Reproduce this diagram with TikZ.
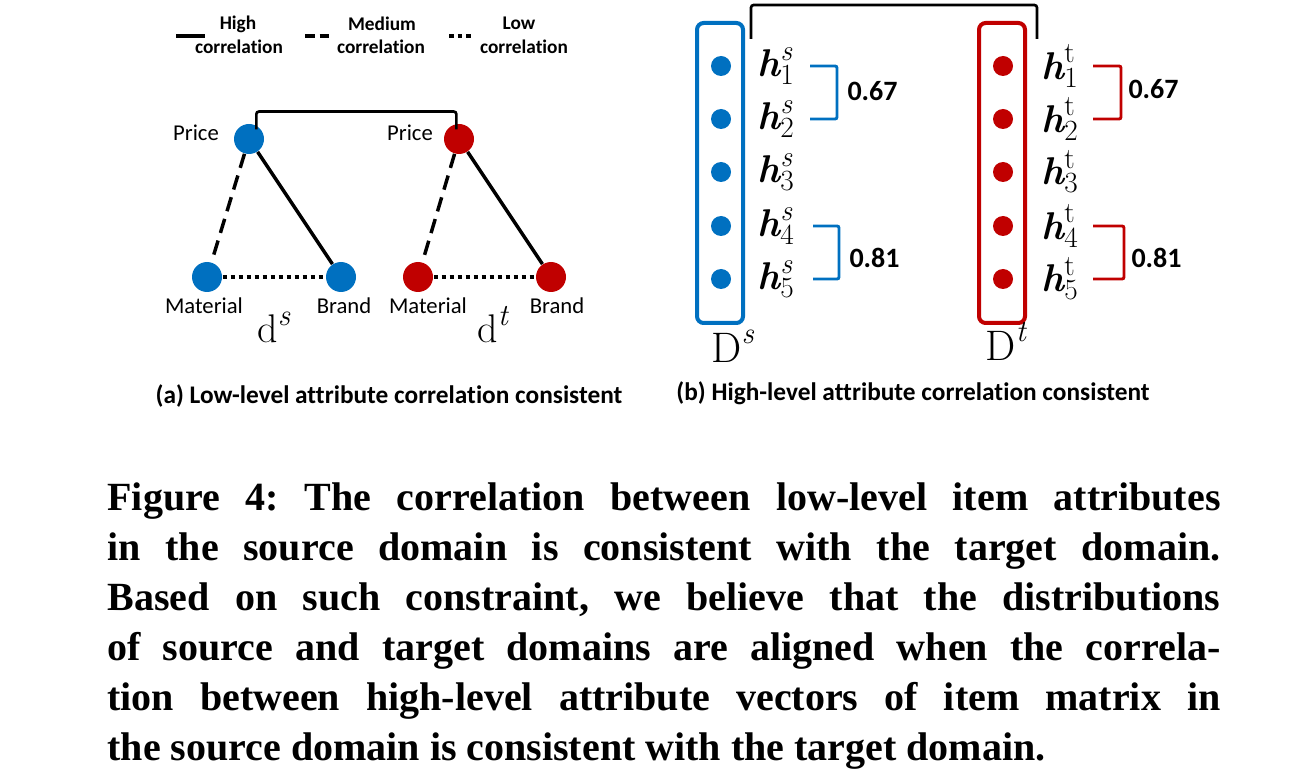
\documentclass[tikz,border=0pt]{standalone}
\usepackage{fontspec}
\usetikzlibrary{calc}
\newfontfamily\calib[Ligatures=NoCommon]{Carlito}
\newfontfamily\capserif{Liberation Serif}
\definecolor{sblue}{RGB}{0,112,192}
\definecolor{tred}{RGB}{192,0,0}
% vector label h with script sizes set by hand
\newcommand\hv[2]{$\mbox{\bfseries\itshape h}^{\mbox{\fontsize{22}{22}\selectfont #1}}_{\mbox{\fontsize{22}{22}\selectfont #2}}$}
\newcommand\dom[2]{$\mbox{#1}^{\mbox{\fontsize{23}{23}\selectfont\itshape #2}}$}

\tikzset{every picture/.style={line width=0.75pt}}
\tikzset{
  dotS/.style={circle,fill=sblue,inner sep=0pt,minimum size=22.5pt},
  dotT/.style={circle,fill=tred,inner sep=0pt,minimum size=22.5pt},
  vecS/.style={circle,fill=sblue,inner sep=0pt,minimum size=15pt},
  vecT/.style={circle,fill=tred,inner sep=0pt,minimum size=15pt},
  hiline/.style={line width=2.6pt},
  medline/.style={line width=2.6pt,dash pattern=on 11pt off 6pt},
  lowline/.style={line width=2.6pt,dash pattern=on 3pt off 3pt},
  bracket/.style={line width=2pt,rounded corners=2pt},
  brkS/.style={sblue,line width=2.2pt,rounded corners=1.5pt},
  brkT/.style={tred,line width=2.2pt,rounded corners=1.5pt},
  boxS/.style={draw=sblue,line width=3pt,rounded corners=5pt,minimum width=34.5pt,minimum height=225pt,inner sep=0pt},
  boxT/.style={draw=tred,line width=3pt,rounded corners=5pt,minimum width=34.5pt,minimum height=225pt,inner sep=0pt},
  legtxt/.style={inner sep=0pt,font=\calib\bfseries\fontsize{14.5}{17}\selectfont},
  attr/.style={inner sep=0pt,font=\calib\fontsize{17}{20}\selectfont},
  sublab/.style={inner sep=0pt,font=\calib\bfseries\fontsize{19}{22}\selectfont},
  vallab/.style={inner sep=0pt,anchor=west,font=\calib\bfseries\fontsize{21}{24}\selectfont},
  hlab/.style={inner sep=0pt,anchor=west,font=\fontsize{29}{30}\selectfont},
  domlab/.style={inner sep=0pt,anchor=base,font=\fontsize{30}{34}\selectfont}
}

\begin{document}
\begin{tikzpicture}[x=0.75pt,y=0.75pt,yscale=-1,xscale=1]
\useasboundingbox (0,0) rectangle (1303,777);

% Legend
\coordinate (hiA) at (176,36);
\coordinate (hiB) at (205,36);
\coordinate (medA) at (305,36);
\coordinate (medB) at (329,36);
\coordinate (lowA) at (449,36);
\coordinate (lowB) at (474,36);
\draw [hiline,line width=3pt] (hiA) -- (hiB);
\draw [medline,line width=3pt,dash pattern=on 7.5pt off 3.5pt] (medA) -- (medB);
\draw [lowline,line width=3pt,dash pattern=on 3.5pt off 3pt] (lowA) -- (lowB);
% Text Node
\draw (238,24) node [legtxt] (tHigh) {High};
\draw (239,47) node [legtxt] (tHighC) {correlation};
% Text Node
\draw (382,24) node [legtxt] (tMed) {Medium};
\draw (381,47) node [legtxt] (tMedC) {correlation};
% Text Node
\draw (519,23) node [legtxt] (tLow) {Low};
\draw (524,47) node [legtxt] (tLowC) {correlation};

% (a) attribute graphs
\draw (249,139) node [dotS] (priceS) {};
\draw (207,277) node [dotS] (matS) {};
\draw (341,277) node [dotS] (brandS) {};
\draw (459,139) node [dotT] (priceT) {};
\draw (418,277) node [dotT] (matT) {};
\draw (551,277) node [dotT] (brandT) {};

\draw [medline] (priceS) -- (matS);
\draw [hiline] (priceS) -- (brandS);
\draw [lowline] (matS) -- (brandS);
\draw [medline] (priceT) -- (matT);
\draw [hiline] (priceT) -- (brandT);
\draw [lowline] (matT) -- (brandT);

\draw [bracket] ([xshift=5.5pt,yshift=4.5pt]priceS.north) -- ++(0,-18) -| ([xshift=-2pt,yshift=4.5pt]priceT.north);

% Text Node
\draw (196,133) node [attr] (lPriceS) {Price};
\draw (204,306) node [attr] (lMatS) {Material};
\draw (344,306) node [attr] (lBrandS) {Brand};
\draw (410,133) node [attr] (lPriceT) {Price};
\draw (428,306) node [attr] (lMatT) {Material};
\draw (557,306) node [attr] (lBrandT) {Brand};
% Text Node
\draw (274,343) node [domlab] (dS) {\dom{d}{s}};
\draw (493,343) node [domlab] (dT) {\dom{d}{t}};

% (b) item matrices
\draw (720,173) node [boxS] (boxDs) {};
\draw (1002,173) node [boxT] (boxDt) {};

\draw (721,66) node [vecS] (d1s) {};
\draw (721,119) node [vecS] (d2s) {};
\draw (721,172) node [vecS] (d3s) {};
\draw (721,226) node [vecS] (d4s) {};
\draw (721,279) node [vecS] (d5s) {};
\draw (1003,66) node [vecT] (d1t) {};
\draw (1003,119) node [vecT] (d2t) {};
\draw (1003,172) node [vecT] (d3t) {};
\draw (1003,226) node [vecT] (d4t) {};
\draw (1003,279) node [vecT] (d5t) {};

% Text Node
\draw (757,66) node [hlab] (h1s) {\hv{\itshape s}{1}};
\draw (757,119) node [hlab] (h2s) {\hv{\itshape s}{2}};
\draw (757,172) node [hlab] (h3s) {\hv{\itshape s}{3}};
\draw (757,226) node [hlab] (h4s) {\hv{\itshape s}{4}};
\draw (757,279) node [hlab] (h5s) {\hv{\itshape s}{5}};
\draw (1041,66) node [hlab] (h1t) {\hv{t}{1}};
\draw (1041,119) node [hlab] (h2t) {\hv{t}{2}};
\draw (1041,172) node [hlab] (h3t) {\hv{t}{3}};
\draw (1041,226) node [hlab] (h4t) {\hv{t}{4}};
\draw (1041,279) node [hlab] (h5t) {\hv{t}{5}};

\draw [brkS] ($(d1s)+(89,0)$) -- ++(27,0) |- ($(d2s)+(89,0)$);
\draw [brkS] ($(d4s)+(92,0)$) -- ++(26,0) |- ($(d5s)+(92,0)$);
\draw [brkT] ($(d1t)+(90,0)$) -- ++(28,0) |- ($(d2t)+(90,0)$);
\draw [brkT] ($(d4t)+(90,0)$) -- ++(31,0) |- ($(d5t)+(90,0)$);

% Text Node
\draw (847,91) node [vallab] (c12s) {0.67};
\draw (849,258) node [vallab] (c45s) {0.81};
\draw (1128,89) node [vallab] (c12t) {0.67};
\draw (1131,258) node [vallab] (c45t) {0.81};

\coordinate (brL) at (751,39);
\coordinate (brR) at (1037,39);
\draw [bracket] (brL) -- ++(0,-34) -| (brR);

\draw (733,362) node [domlab,font=\fontsize{32}{36}\selectfont] (Ds) {\dom{D}{s}};
\draw (1006,360) node [domlab,font=\fontsize{32}{36}\selectfont] (Dt) {\dom{D}{t}};

% Sub-captions
\draw (389,396) node [sublab] (capA) {(a) Low-level attribute correlation consistent};
\draw (913,393) node [sublab] (capB) {(b) High-level attribute correlation consistent};

% Figure caption
\draw (107,482) node [anchor=north west,inner sep=0pt,text width=834.75pt,align=justify,font=\capserif\bfseries\fontsize{30}{37.5}\selectfont\frenchspacing] (figcap)
{Figure 4: The correlation between low-level item attributes\linebreak
in the source domain is consistent with the target domain.\linebreak
Based on such constraint, we believe that the distributions\linebreak
of source and target domains are aligned when the correla-\linebreak
tion between high-level attribute vectors of item matrix in\linebreak
the source domain is consistent with the target domain.};

\end{tikzpicture}
\end{document}
